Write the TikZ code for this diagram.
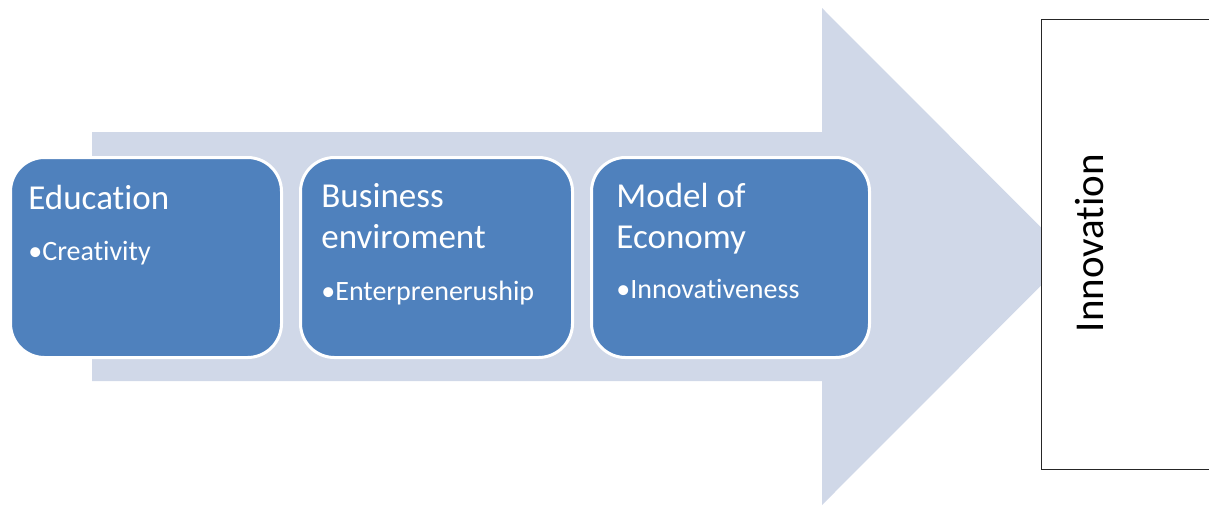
\documentclass[tikz,border=0pt]{standalone}
\usepackage{fontspec}
\setmainfont{Carlito}[Ligatures=NoCommon]
\usetikzlibrary{positioning}
\definecolor{shaftcol}{HTML}{D0D8E8}
\definecolor{stageblue}{HTML}{4F81BD}
\tikzstyle{stage}=[draw=white, line width=1.5pt, fill=stageblue, rounded corners=17pt, anchor=north west, inner sep=0pt, minimum height=100pt]
\tikzstyle{heading}=[text=white, font=\fontsize{17.5}{20.5}\selectfont, align=left, anchor=base west, inner sep=0pt]
\tikzstyle{bullet}=[text=white, font=\fontsize{14}{17}\selectfont, anchor=base west, inner sep=0pt]
\tikzstyle{outcome}=[draw=black!85, line width=0.6pt, fill=white, anchor=north west, minimum width=90pt, minimum height=225pt]

\begin{document}
\begin{tikzpicture}[x=0.5pt, y=-0.5pt]

    \useasboundingbox (0,0) rectangle (1209,505);

    % big arrow behind the stages
    \fill[shaftcol] (92,132) -- (822,132) -- (822,8) -- (1070,256.5) -- (822,505) -- (822,381) -- (92,381) -- cycle;

    \foreach \x/\w/\name in {9/271/edu, 299/272/bus, 590/278/eco}
        \node[stage, minimum width=\w*0.5pt] (\name) at (\x,156) {};

    % headings sit on the baseline of their last line
    \foreach \x/\y/\name/\txt in {28/209/eduhead/{Education}, 321/248/bushead/{Business\\enviroment}, 616/248/ecohead/{Model of\\Economy}}
        \node[heading] (\name) at (\x,\y) {\txt};

    \foreach \x/\y/\name/\txt in {28/260/eduitem/{Creativity}, 321/300/busitem/{Enterpreneruship}, 616/298/ecoitem/{Innovativeness}}
        \node[bullet] (\name) at (\x,\y) {\textbullet\txt};

    \node[outcome] (inno) at (1041,19) {};
    \node[rotate=90, font=\fontsize{20.5}{24}\selectfont, inner sep=0pt] (innotext) at (1090,243) {Innovation};

\end{tikzpicture}
\end{document}
